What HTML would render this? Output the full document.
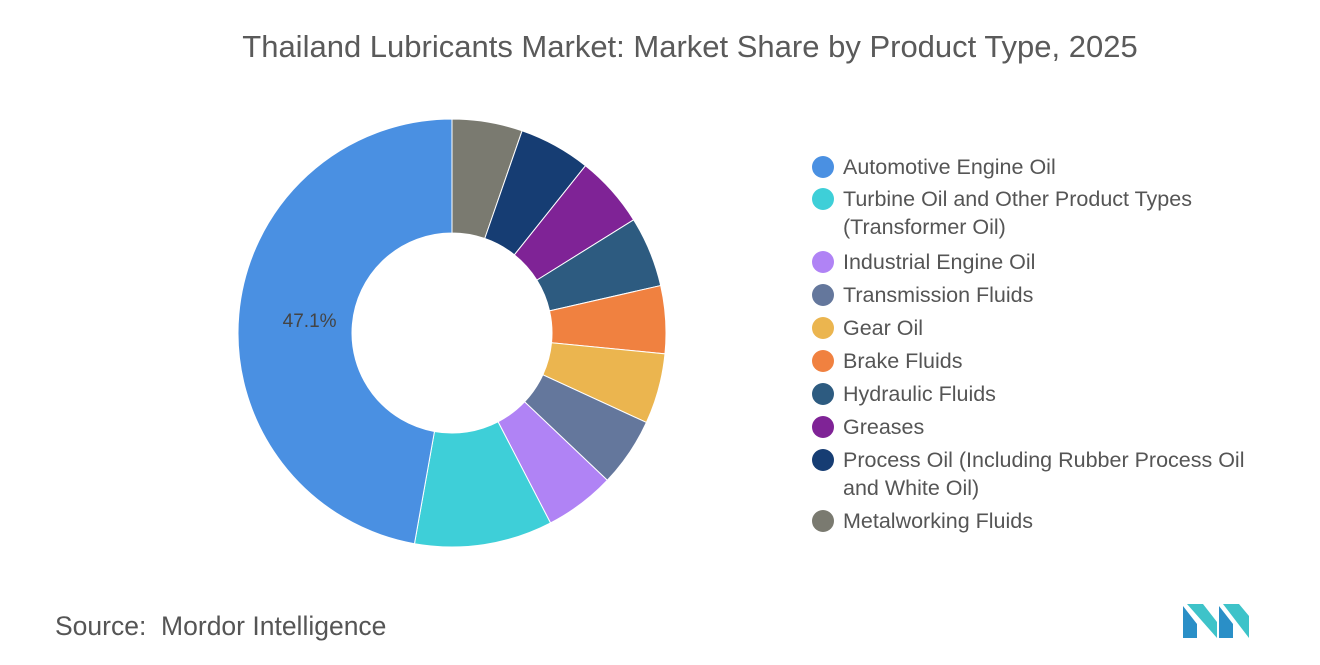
<!DOCTYPE html>
<html><head><meta charset="utf-8"><style>
body{margin:0;background:#fff;font-family:"Liberation Sans",sans-serif;}
#wrap{position:relative;width:1320px;height:665px;overflow:hidden;}
.title{position:absolute;left:0;width:1380px;top:29px;text-align:center;font-size:31px;color:#5a5a5a;}
.leg{position:absolute;left:812px;font-size:21.5px;color:#555;line-height:28px;}
.dot{position:absolute;left:0;width:22px;height:22px;border-radius:50%;}
.lt{position:absolute;left:31px;white-space:nowrap;}
.src{position:absolute;left:55px;top:611px;font-size:26.5px;color:#555;}
</style></head><body>
<div id="wrap">
<div class="title">Thailand Lubricants Market: Market Share by Product Type, 2025</div>
<svg id="pie" width="1320" height="665" style="position:absolute;left:0;top:0"></svg>
<div id="legend"></div>
<div class="src">Source:&nbsp; Mordor Intelligence</div>
<svg width="70" height="40" style="position:absolute;left:1183px;top:602px">
<polygon points="0,36 0,4 14,22 14,36" fill="#2a8fc7"/>
<polygon points="4,2 20,2 34,20 34,36" fill="#3ec3c9"/>
<polygon points="36,36 36,4 50,22 50,36" fill="#2a8fc7"/>
<polygon points="40,2 56,2 66,14 66,36" fill="#3ec3c9"/>
</svg>
</div>
<script>
const categories=["Automotive Engine Oil","Turbine Oil and Other Product Types|(Transformer Oil)","Industrial Engine Oil","Transmission Fluids","Gear Oil","Brake Fluids","Hydraulic Fluids","Greases","Process Oil (Including Rubber Process Oil|and White Oil)","Metalworking Fluids"];
const values=[47.1,10.4,5.3,5.2,5.3,5.1,5.3,5.4,5.4,5.3];
const colors=["#4a90e2","#3ecfd8","#b083f5","#64779c","#ebb54f","#f08140","#2d5b80","#7f2396","#163d73","#7a7a70"];
const labelIdx=[0];
const legendY=[167,199,262,295,328,361,394,427,460,521];
const svg=document.getElementById('pie');
const NS='http://www.w3.org/2000/svg';
const cx=452,cy=333,R=214,r=100;
const total=values.reduce((a,b)=>a+b,0);
function pt(a,rad){return [cx+rad*Math.sin(a),cy-rad*Math.cos(a)];}
let acc=0;
for(let k=values.length-1;k>=0;k--){
  const a0=acc/total*2*Math.PI;acc+=values[k];const a1=acc/total*2*Math.PI;
  const lg=(a1-a0)>Math.PI?1:0;
  const p0=pt(a0,R),p1=pt(a1,R),q1=pt(a1,r),q0=pt(a0,r);
  const p=document.createElementNS(NS,'path');
  p.setAttribute('d',`M${p0}A${R},${R} 0 ${lg} 1 ${p1}L${q1}A${r},${r} 0 ${lg} 0 ${q0}Z`);
  p.setAttribute('fill',colors[k]);p.setAttribute('stroke','#fff');p.setAttribute('stroke-width','1');
  
  
  svg.appendChild(p);
  if(labelIdx.includes(k)){
    const m=(a0+a1)/2,lp=pt(m,(R+r)/2);
    const t=document.createElementNS(NS,'text');
    t.setAttribute('x',lp[0]+14);t.setAttribute('y',lp[1]+8);t.setAttribute('text-anchor','middle');
    t.setAttribute('font-size','19');t.setAttribute('fill','#444');t.setAttribute('font-family','Liberation Sans, sans-serif');
    t.textContent=values[k].toFixed(1)+'%';
    
    
    svg.appendChild(t);
  }
}
const lg=document.getElementById('legend');
categories.forEach((c,i)=>{
  const d=document.createElement('div');d.className='leg';d.style.top=(legendY[i]-14)+'px';
  
  
  d.innerHTML=`<div class="dot" style="top:3px;background:${colors[i]}"></div><div class="lt">${c.split('|').join('<br>')}</div>`;
  lg.appendChild(d);
});
</script>
</body></html>
